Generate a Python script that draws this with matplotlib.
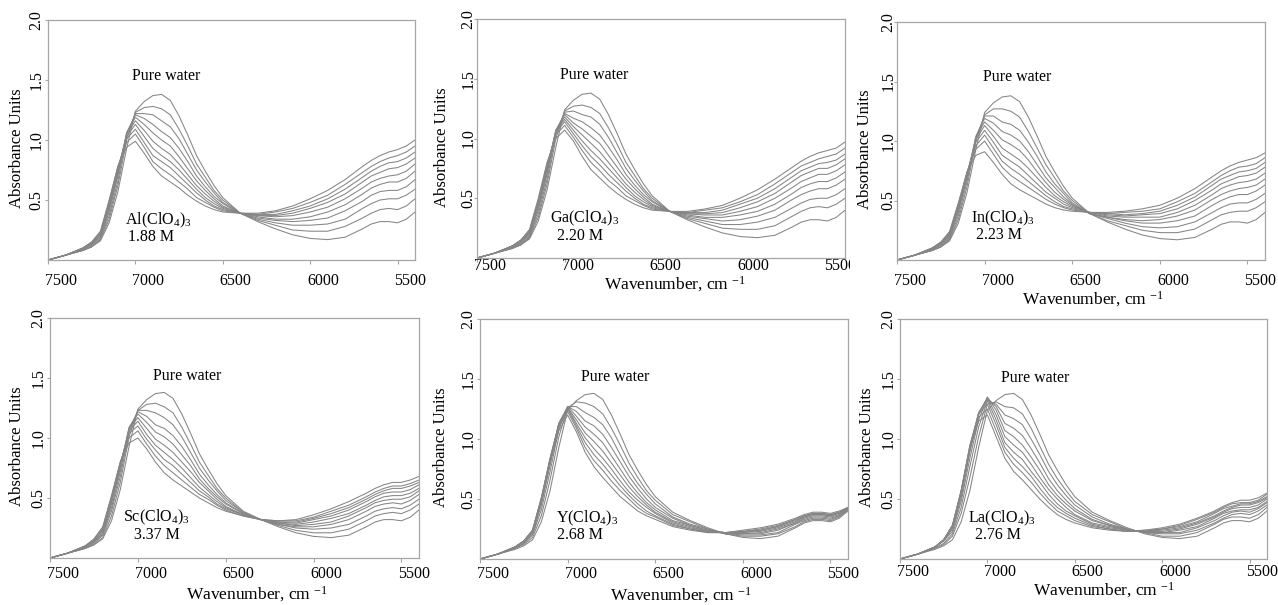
import matplotlib.pyplot as plt
from matplotlib.transforms import ScaledTranslation, Bbox, TransformedBbox

plt.rcParams["font.family"] = ["Liberation Serif", "DejaVu Serif"]
plt.rcParams["mathtext.fontset"] = "custom"
plt.rcParams["mathtext.rm"] = "Liberation Serif"
plt.rcParams["mathtext.it"] = "Liberation Serif:italic"

# NIR absorbance spectra, wavenumber in cm-1
wavenumber = [7500, 7400, 7300, 7250, 7200, 7150, 7100, 7050, 7000, 6950, 6900, 6850, 6800,
              6750, 6700, 6650, 6600, 6550, 6500, 6400, 6300, 6200, 6100, 6000, 5900, 5800,
              5700, 5650, 5600, 5550, 5500, 5450, 5400]

pure_water = [0.00, 0.04, 0.08, 0.11, 0.16, 0.31, 0.57, 0.93, 1.24, 1.32, 1.37, 1.38, 1.33,
              1.20, 1.04, 0.87, 0.74, 0.62, 0.52, 0.39, 0.32, 0.26, 0.21, 0.18, 0.17, 0.19,
              0.26, 0.30, 0.32, 0.32, 0.31, 0.34, 0.40]

# salt solutions, increasing concentration up to the value in the label
al_spectra = [
    [0.00, 0.04, 0.08, 0.11, 0.17, 0.34, 0.62, 1.00, 1.23, 1.27, 1.28, 1.26, 1.21, 1.09, 0.95, 0.80, 0.69, 0.58, 0.50, 0.39, 0.33, 0.29, 0.25, 0.24, 0.24, 0.28, 0.35, 0.39, 0.42, 0.43, 0.42, 0.45, 0.51],
    [0.00, 0.04, 0.08, 0.11, 0.18, 0.37, 0.66, 1.04, 1.22, 1.22, 1.21, 1.16, 1.11, 1.01, 0.88, 0.75, 0.65, 0.56, 0.48, 0.39, 0.34, 0.31, 0.29, 0.29, 0.30, 0.34, 0.43, 0.47, 0.50, 0.51, 0.51, 0.54, 0.59],
    [0.00, 0.04, 0.09, 0.12, 0.19, 0.40, 0.70, 1.06, 1.21, 1.18, 1.13, 1.07, 1.02, 0.93, 0.82, 0.70, 0.61, 0.53, 0.47, 0.39, 0.35, 0.33, 0.32, 0.33, 0.35, 0.41, 0.49, 0.54, 0.57, 0.58, 0.58, 0.61, 0.67],
    [0.00, 0.04, 0.09, 0.13, 0.20, 0.42, 0.72, 1.06, 1.19, 1.13, 1.06, 1.00, 0.95, 0.86, 0.76, 0.66, 0.58, 0.51, 0.45, 0.39, 0.36, 0.34, 0.34, 0.36, 0.40, 0.46, 0.55, 0.60, 0.63, 0.65, 0.65, 0.68, 0.74],
    [0.00, 0.04, 0.09, 0.13, 0.21, 0.44, 0.74, 1.05, 1.16, 1.08, 0.99, 0.93, 0.88, 0.80, 0.71, 0.62, 0.55, 0.49, 0.44, 0.39, 0.37, 0.36, 0.37, 0.40, 0.44, 0.51, 0.60, 0.65, 0.68, 0.70, 0.71, 0.74, 0.80],
    [0.00, 0.04, 0.10, 0.14, 0.22, 0.46, 0.76, 1.03, 1.13, 1.03, 0.93, 0.87, 0.82, 0.75, 0.67, 0.59, 0.52, 0.47, 0.43, 0.39, 0.37, 0.37, 0.39, 0.43, 0.48, 0.55, 0.65, 0.70, 0.73, 0.76, 0.77, 0.80, 0.85],
    [0.00, 0.04, 0.10, 0.14, 0.22, 0.47, 0.77, 1.01, 1.09, 0.98, 0.87, 0.82, 0.77, 0.70, 0.63, 0.56, 0.50, 0.45, 0.42, 0.39, 0.38, 0.38, 0.41, 0.45, 0.51, 0.59, 0.69, 0.74, 0.78, 0.81, 0.82, 0.85, 0.90],
    [0.00, 0.04, 0.10, 0.15, 0.23, 0.49, 0.78, 0.98, 1.05, 0.94, 0.82, 0.76, 0.71, 0.65, 0.59, 0.52, 0.48, 0.44, 0.41, 0.39, 0.38, 0.40, 0.43, 0.48, 0.54, 0.63, 0.73, 0.78, 0.82, 0.85, 0.87, 0.90, 0.95],
    [0.00, 0.04, 0.10, 0.15, 0.24, 0.50, 0.78, 0.94, 0.99, 0.89, 0.78, 0.70, 0.65, 0.60, 0.54, 0.49, 0.45, 0.42, 0.40, 0.39, 0.39, 0.41, 0.45, 0.51, 0.58, 0.67, 0.78, 0.83, 0.87, 0.90, 0.92, 0.95, 1.00],
]

ga_spectra = [
    [0.00, 0.04, 0.08, 0.11, 0.17, 0.34, 0.62, 1.00, 1.23, 1.27, 1.28, 1.26, 1.21, 1.09, 0.95, 0.80, 0.69, 0.58, 0.50, 0.39, 0.33, 0.29, 0.25, 0.24, 0.24, 0.27, 0.35, 0.39, 0.42, 0.43, 0.42, 0.45, 0.50],
    [0.00, 0.04, 0.08, 0.11, 0.18, 0.37, 0.66, 1.04, 1.22, 1.23, 1.20, 1.18, 1.12, 1.01, 0.88, 0.75, 0.65, 0.56, 0.48, 0.39, 0.34, 0.31, 0.28, 0.28, 0.30, 0.34, 0.42, 0.46, 0.49, 0.50, 0.50, 0.53, 0.58],
    [0.00, 0.04, 0.09, 0.12, 0.19, 0.40, 0.70, 1.06, 1.21, 1.17, 1.14, 1.09, 1.03, 0.93, 0.82, 0.70, 0.61, 0.53, 0.47, 0.39, 0.35, 0.33, 0.31, 0.32, 0.35, 0.40, 0.49, 0.53, 0.56, 0.58, 0.58, 0.61, 0.66],
    [0.00, 0.04, 0.09, 0.13, 0.20, 0.42, 0.72, 1.07, 1.20, 1.13, 1.08, 1.02, 0.96, 0.86, 0.76, 0.66, 0.58, 0.51, 0.45, 0.39, 0.36, 0.34, 0.34, 0.36, 0.39, 0.45, 0.54, 0.59, 0.62, 0.64, 0.64, 0.67, 0.72],
    [0.00, 0.04, 0.09, 0.13, 0.21, 0.44, 0.74, 1.07, 1.18, 1.10, 1.03, 0.96, 0.89, 0.80, 0.71, 0.62, 0.55, 0.49, 0.44, 0.39, 0.37, 0.36, 0.36, 0.39, 0.43, 0.50, 0.59, 0.64, 0.67, 0.70, 0.70, 0.73, 0.78],
    [0.00, 0.04, 0.10, 0.14, 0.22, 0.46, 0.76, 1.06, 1.16, 1.07, 0.98, 0.90, 0.83, 0.75, 0.67, 0.59, 0.52, 0.47, 0.43, 0.39, 0.37, 0.37, 0.38, 0.42, 0.47, 0.54, 0.64, 0.69, 0.72, 0.75, 0.75, 0.78, 0.83],
    [0.00, 0.04, 0.10, 0.14, 0.22, 0.47, 0.77, 1.05, 1.14, 1.04, 0.94, 0.85, 0.78, 0.70, 0.63, 0.56, 0.50, 0.45, 0.42, 0.39, 0.38, 0.38, 0.40, 0.45, 0.50, 0.58, 0.68, 0.73, 0.76, 0.79, 0.80, 0.82, 0.87],
    [0.00, 0.04, 0.10, 0.15, 0.23, 0.49, 0.79, 1.03, 1.11, 1.01, 0.90, 0.80, 0.73, 0.65, 0.59, 0.52, 0.48, 0.44, 0.41, 0.39, 0.38, 0.40, 0.42, 0.47, 0.53, 0.62, 0.72, 0.77, 0.80, 0.83, 0.85, 0.87, 0.92],
    [0.00, 0.04, 0.10, 0.15, 0.24, 0.50, 0.80, 1.00, 1.07, 0.98, 0.85, 0.74, 0.67, 0.60, 0.54, 0.49, 0.45, 0.42, 0.40, 0.39, 0.39, 0.41, 0.44, 0.50, 0.57, 0.66, 0.76, 0.81, 0.85, 0.88, 0.90, 0.92, 0.97],
]

in_spectra = [
    [0.00, 0.04, 0.08, 0.11, 0.17, 0.34, 0.62, 1.00, 1.22, 1.27, 1.27, 1.25, 1.20, 1.08, 0.94, 0.80, 0.69, 0.58, 0.50, 0.39, 0.33, 0.29, 0.25, 0.23, 0.23, 0.26, 0.34, 0.38, 0.40, 0.41, 0.41, 0.44, 0.49],
    [0.00, 0.04, 0.08, 0.11, 0.18, 0.37, 0.66, 1.03, 1.21, 1.21, 1.16, 1.14, 1.09, 0.99, 0.87, 0.74, 0.64, 0.56, 0.48, 0.39, 0.35, 0.31, 0.28, 0.27, 0.28, 0.32, 0.40, 0.44, 0.47, 0.48, 0.48, 0.51, 0.56],
    [0.00, 0.04, 0.09, 0.12, 0.19, 0.40, 0.69, 1.04, 1.19, 1.15, 1.08, 1.05, 1.00, 0.91, 0.80, 0.69, 0.61, 0.53, 0.47, 0.39, 0.36, 0.33, 0.31, 0.31, 0.33, 0.37, 0.46, 0.50, 0.53, 0.55, 0.55, 0.58, 0.63],
    [0.00, 0.04, 0.09, 0.13, 0.20, 0.42, 0.71, 1.03, 1.16, 1.09, 1.01, 0.97, 0.92, 0.84, 0.74, 0.65, 0.57, 0.51, 0.46, 0.39, 0.36, 0.34, 0.33, 0.34, 0.37, 0.42, 0.51, 0.55, 0.58, 0.60, 0.61, 0.63, 0.68],
    [0.00, 0.04, 0.09, 0.13, 0.21, 0.43, 0.72, 1.01, 1.13, 1.04, 0.94, 0.89, 0.84, 0.77, 0.69, 0.61, 0.54, 0.49, 0.45, 0.40, 0.37, 0.36, 0.36, 0.36, 0.40, 0.46, 0.55, 0.60, 0.63, 0.65, 0.66, 0.68, 0.73],
    [0.00, 0.04, 0.10, 0.14, 0.22, 0.45, 0.73, 0.99, 1.09, 0.99, 0.88, 0.83, 0.78, 0.71, 0.64, 0.57, 0.52, 0.47, 0.44, 0.40, 0.38, 0.37, 0.38, 0.39, 0.43, 0.50, 0.59, 0.64, 0.67, 0.70, 0.71, 0.73, 0.78],
    [0.00, 0.04, 0.10, 0.14, 0.22, 0.46, 0.74, 0.96, 1.05, 0.94, 0.83, 0.77, 0.72, 0.66, 0.60, 0.54, 0.49, 0.45, 0.43, 0.40, 0.39, 0.38, 0.39, 0.41, 0.46, 0.53, 0.63, 0.68, 0.71, 0.74, 0.75, 0.77, 0.82],
    [0.00, 0.04, 0.10, 0.15, 0.23, 0.47, 0.74, 0.93, 1.00, 0.89, 0.78, 0.71, 0.66, 0.61, 0.56, 0.51, 0.47, 0.44, 0.42, 0.40, 0.39, 0.40, 0.41, 0.43, 0.49, 0.56, 0.66, 0.71, 0.75, 0.78, 0.79, 0.81, 0.86],
    [0.00, 0.04, 0.10, 0.15, 0.24, 0.48, 0.74, 0.88, 0.91, 0.82, 0.72, 0.64, 0.59, 0.55, 0.51, 0.47, 0.44, 0.42, 0.41, 0.40, 0.40, 0.41, 0.43, 0.46, 0.52, 0.60, 0.70, 0.75, 0.79, 0.82, 0.84, 0.86, 0.90],
]

sc_spectra = [
    [0.00, 0.04, 0.08, 0.11, 0.17, 0.35, 0.63, 1.01, 1.23, 1.28, 1.29, 1.26, 1.21, 1.09, 0.95, 0.80, 0.69, 0.58, 0.50, 0.38, 0.32, 0.27, 0.23, 0.21, 0.21, 0.24, 0.31, 0.35, 0.37, 0.38, 0.37, 0.40, 0.45],
    [0.00, 0.04, 0.08, 0.12, 0.19, 0.39, 0.68, 1.05, 1.23, 1.23, 1.21, 1.17, 1.11, 1.01, 0.88, 0.75, 0.65, 0.56, 0.48, 0.38, 0.32, 0.28, 0.25, 0.24, 0.25, 0.28, 0.35, 0.39, 0.41, 0.42, 0.41, 0.44, 0.49],
    [0.00, 0.04, 0.09, 0.13, 0.20, 0.42, 0.72, 1.08, 1.22, 1.18, 1.11, 1.08, 1.02, 0.93, 0.82, 0.70, 0.61, 0.53, 0.46, 0.37, 0.32, 0.28, 0.26, 0.26, 0.28, 0.32, 0.39, 0.43, 0.45, 0.46, 0.45, 0.48, 0.53],
    [0.00, 0.04, 0.09, 0.13, 0.21, 0.45, 0.75, 1.09, 1.20, 1.13, 1.05, 1.01, 0.95, 0.86, 0.77, 0.66, 0.58, 0.51, 0.45, 0.37, 0.32, 0.29, 0.27, 0.28, 0.30, 0.35, 0.42, 0.46, 0.48, 0.49, 0.49, 0.51, 0.56],
    [0.00, 0.04, 0.09, 0.14, 0.22, 0.47, 0.77, 1.08, 1.17, 1.08, 0.99, 0.94, 0.88, 0.80, 0.72, 0.63, 0.56, 0.49, 0.43, 0.36, 0.32, 0.29, 0.28, 0.30, 0.33, 0.37, 0.44, 0.48, 0.51, 0.52, 0.52, 0.54, 0.58],
    [0.00, 0.04, 0.10, 0.15, 0.23, 0.49, 0.78, 1.06, 1.14, 1.03, 0.94, 0.88, 0.82, 0.75, 0.67, 0.59, 0.53, 0.47, 0.42, 0.36, 0.32, 0.30, 0.29, 0.32, 0.35, 0.40, 0.47, 0.51, 0.54, 0.55, 0.55, 0.57, 0.61],
    [0.00, 0.04, 0.10, 0.15, 0.24, 0.50, 0.79, 1.04, 1.10, 0.99, 0.90, 0.82, 0.77, 0.70, 0.63, 0.56, 0.51, 0.45, 0.41, 0.36, 0.32, 0.30, 0.30, 0.33, 0.37, 0.42, 0.49, 0.53, 0.56, 0.58, 0.58, 0.60, 0.63],
    [0.00, 0.04, 0.10, 0.15, 0.25, 0.51, 0.80, 1.00, 1.06, 0.95, 0.85, 0.77, 0.71, 0.65, 0.59, 0.53, 0.49, 0.44, 0.40, 0.35, 0.32, 0.31, 0.31, 0.34, 0.39, 0.44, 0.51, 0.55, 0.58, 0.60, 0.60, 0.62, 0.65],
    [0.00, 0.04, 0.10, 0.16, 0.26, 0.52, 0.80, 0.96, 1.00, 0.91, 0.80, 0.71, 0.65, 0.60, 0.55, 0.50, 0.46, 0.42, 0.39, 0.35, 0.32, 0.31, 0.32, 0.36, 0.41, 0.47, 0.54, 0.58, 0.61, 0.63, 0.63, 0.65, 0.68],
]

y_spectra = [
    [0.00, 0.04, 0.09, 0.12, 0.18, 0.36, 0.66, 1.02, 1.26, 1.31, 1.30, 1.27, 1.21, 1.09, 0.95, 0.80, 0.68, 0.57, 0.49, 0.37, 0.31, 0.25, 0.21, 0.19, 0.19, 0.21, 0.27, 0.31, 0.33, 0.33, 0.32, 0.35, 0.41],
    [0.00, 0.04, 0.09, 0.13, 0.20, 0.41, 0.73, 1.08, 1.27, 1.27, 1.22, 1.18, 1.12, 1.01, 0.87, 0.74, 0.63, 0.54, 0.46, 0.35, 0.29, 0.25, 0.21, 0.20, 0.20, 0.22, 0.29, 0.32, 0.34, 0.34, 0.33, 0.36, 0.41],
    [0.00, 0.04, 0.09, 0.13, 0.21, 0.45, 0.78, 1.11, 1.27, 1.23, 1.15, 1.11, 1.04, 0.93, 0.81, 0.69, 0.59, 0.50, 0.43, 0.34, 0.28, 0.24, 0.21, 0.21, 0.21, 0.24, 0.30, 0.33, 0.35, 0.35, 0.34, 0.36, 0.41],
    [0.00, 0.04, 0.10, 0.14, 0.22, 0.47, 0.81, 1.13, 1.27, 1.19, 1.10, 1.04, 0.97, 0.86, 0.75, 0.64, 0.55, 0.47, 0.41, 0.32, 0.28, 0.24, 0.22, 0.21, 0.22, 0.25, 0.30, 0.34, 0.36, 0.36, 0.35, 0.37, 0.42],
    [0.00, 0.04, 0.10, 0.15, 0.23, 0.49, 0.83, 1.13, 1.26, 1.16, 1.05, 0.98, 0.90, 0.80, 0.70, 0.60, 0.52, 0.45, 0.39, 0.31, 0.27, 0.23, 0.22, 0.22, 0.23, 0.26, 0.31, 0.35, 0.37, 0.37, 0.36, 0.38, 0.42],
    [0.00, 0.04, 0.10, 0.15, 0.23, 0.50, 0.84, 1.13, 1.26, 1.13, 1.01, 0.92, 0.84, 0.75, 0.65, 0.56, 0.49, 0.43, 0.38, 0.30, 0.26, 0.23, 0.22, 0.22, 0.24, 0.27, 0.32, 0.35, 0.37, 0.37, 0.36, 0.38, 0.42],
    [0.00, 0.04, 0.10, 0.15, 0.24, 0.51, 0.84, 1.12, 1.25, 1.11, 0.97, 0.87, 0.79, 0.70, 0.61, 0.53, 0.46, 0.40, 0.36, 0.29, 0.25, 0.23, 0.22, 0.23, 0.24, 0.27, 0.33, 0.36, 0.38, 0.38, 0.37, 0.39, 0.42],
    [0.00, 0.04, 0.10, 0.15, 0.24, 0.51, 0.83, 1.10, 1.23, 1.09, 0.93, 0.82, 0.74, 0.65, 0.57, 0.50, 0.43, 0.38, 0.35, 0.28, 0.25, 0.22, 0.22, 0.23, 0.25, 0.28, 0.33, 0.36, 0.38, 0.38, 0.37, 0.39, 0.43],
    [0.00, 0.04, 0.10, 0.15, 0.24, 0.50, 0.81, 1.07, 1.20, 1.06, 0.89, 0.77, 0.68, 0.60, 0.52, 0.46, 0.40, 0.36, 0.33, 0.27, 0.24, 0.22, 0.22, 0.24, 0.26, 0.29, 0.34, 0.37, 0.39, 0.39, 0.38, 0.40, 0.43],
]

la_spectra = [
    [0.00, 0.04, 0.09, 0.12, 0.19, 0.38, 0.68, 1.02, 1.29, 1.31, 1.27, 1.26, 1.21, 1.09, 0.94, 0.79, 0.67, 0.57, 0.48, 0.37, 0.31, 0.25, 0.22, 0.19, 0.19, 0.22, 0.29, 0.33, 0.35, 0.35, 0.34, 0.37, 0.43],
    [0.00, 0.04, 0.09, 0.13, 0.21, 0.43, 0.77, 1.10, 1.32, 1.29, 1.20, 1.17, 1.12, 1.00, 0.87, 0.73, 0.62, 0.53, 0.45, 0.35, 0.29, 0.25, 0.22, 0.21, 0.21, 0.24, 0.30, 0.34, 0.37, 0.38, 0.37, 0.40, 0.45],
    [0.00, 0.04, 0.10, 0.15, 0.23, 0.48, 0.84, 1.16, 1.34, 1.27, 1.13, 1.09, 1.03, 0.92, 0.80, 0.67, 0.57, 0.49, 0.42, 0.33, 0.28, 0.25, 0.22, 0.22, 0.22, 0.26, 0.32, 0.36, 0.39, 0.40, 0.39, 0.42, 0.47],
    [0.00, 0.04, 0.10, 0.15, 0.25, 0.51, 0.89, 1.20, 1.35, 1.24, 1.07, 1.02, 0.95, 0.85, 0.74, 0.62, 0.53, 0.46, 0.40, 0.32, 0.28, 0.24, 0.23, 0.22, 0.24, 0.27, 0.34, 0.38, 0.40, 0.41, 0.41, 0.43, 0.48],
    [0.00, 0.04, 0.10, 0.16, 0.26, 0.54, 0.92, 1.22, 1.34, 1.20, 1.02, 0.95, 0.89, 0.79, 0.68, 0.58, 0.50, 0.43, 0.37, 0.30, 0.27, 0.24, 0.23, 0.23, 0.25, 0.29, 0.35, 0.39, 0.42, 0.43, 0.43, 0.45, 0.50],
    [0.00, 0.04, 0.10, 0.16, 0.27, 0.56, 0.94, 1.22, 1.32, 1.16, 0.97, 0.89, 0.83, 0.73, 0.64, 0.54, 0.46, 0.40, 0.36, 0.29, 0.26, 0.24, 0.23, 0.24, 0.26, 0.30, 0.36, 0.40, 0.43, 0.45, 0.45, 0.47, 0.51],
    [0.00, 0.04, 0.10, 0.16, 0.28, 0.57, 0.95, 1.21, 1.29, 1.12, 0.93, 0.84, 0.77, 0.69, 0.59, 0.50, 0.43, 0.38, 0.34, 0.28, 0.25, 0.23, 0.23, 0.25, 0.27, 0.31, 0.38, 0.42, 0.44, 0.46, 0.46, 0.48, 0.52],
    [0.00, 0.04, 0.10, 0.16, 0.28, 0.57, 0.94, 1.18, 1.25, 1.07, 0.89, 0.79, 0.72, 0.64, 0.55, 0.47, 0.40, 0.36, 0.32, 0.27, 0.25, 0.23, 0.24, 0.25, 0.28, 0.33, 0.39, 0.43, 0.46, 0.47, 0.47, 0.49, 0.54],
    [0.00, 0.04, 0.10, 0.16, 0.28, 0.57, 0.92, 1.15, 1.20, 1.02, 0.84, 0.73, 0.66, 0.58, 0.50, 0.43, 0.37, 0.33, 0.30, 0.26, 0.24, 0.23, 0.24, 0.26, 0.29, 0.34, 0.40, 0.44, 0.47, 0.49, 0.49, 0.51, 0.55],
]

salts = ["Al", "Ga", "In", "Sc", "Y", "La"]
molarity = ["1.88 M", "2.20 M", "2.23 M", "3.37 M", "2.68 M", "2.76 M"]
spectra = [al_spectra, ga_spectra, in_spectra, sc_spectra, y_spectra, la_spectra]

x_ticks = [7500, 7000, 6500, 6000, 5500]
y_ticks = [0.5, 1.0, 1.5, 2.0]

# layout, in pixels of the 1278x605 canvas
W, H = 1278, 605
boxes = [(48, 20, 415, 260), (477, 19, 845, 258), (897, 22, 1265, 260),
         (50, 318, 419, 558), (480, 319, 848, 559), (900, 319, 1267, 559)]
xtick_pad = [6.1, -2.8, 6.4, 2.9, 2.2, 0.8]
xlabel_pos = [None, (0.538, -0.068), (0.533, -0.125), (0.561, -0.108), (0.546, -0.112), (0.556, -0.091)]
ylabel_off = [31, 35, 32, 33, 39, 33]
ytick_off = [10.5, 8, 8, 11, 11, 11]
water_xy = [(6826, 1.53), (6831, 1.53), (6814, 1.54), (6720, 1.52), (6729, 1.52), (6728, 1.51)]
salt_xy = [(6871, 0.33), (6883, 0.33), (6894, 0.35), (6897, 0.34), (6889, 0.34), (6917, 0.34)]
conc_xy = [(6911, 0.19), (6911, 0.18), (6920, 0.21), (6890, 0.19), (6929, 0.20), (6937, 0.20)]

line_color = "#858585"
frame_color = "#a6a6a6"

fig = plt.figure(figsize=(W / 100, H / 100), dpi=100)

for i, (l, t, r, b) in enumerate(boxes):
    ax = fig.add_axes([l / W, 1 - b / H, (r - l) / W, (b - t) / H])
    ax.plot(wavenumber, pure_water, color=line_color, lw=0.75)
    for row in spectra[i]:
        ax.plot(wavenumber, row, color=line_color, lw=0.75)

    ax.set_xlim(7500, 5400)
    ax.set_ylim(0, 2.0)
    ax.set_xticks(x_ticks)
    ax.set_xticklabels([str(v) for v in x_ticks])
    ax.set_yticks(y_ticks)
    ax.set_yticklabels([f"{v:.1f}" for v in y_ticks])
    for sp in ax.spines.values():
        sp.set_color(frame_color)
        sp.set_linewidth(0.9)
    ax.tick_params(axis="x", length=3, width=0.8, color=frame_color, labelsize=11.5,
                   pad=xtick_pad[i])
    ax.tick_params(axis="y", length=2, width=0.8, color=frame_color, labelsize=11.5,
                   pad=(ytick_off[i] - 2) * 0.72)

    # x tick labels sit a little right of their ticks
    shift = ScaledTranslation(13 / 100, 0, fig.dpi_scale_trans)
    for lbl in ax.get_xticklabels():
        lbl.set_transform(lbl.get_transform() + shift)
    for lbl in ax.get_yticklabels():
        lbl.set_rotation(90)
        lbl.set_ha("center")
        lbl.set_va("center")

    ax.set_ylabel("Absorbance Units", fontsize=12)
    ax.yaxis.label.set_va("center")
    ax.yaxis.set_label_coords(-ylabel_off[i] / (r - l), 0.465)
    if xlabel_pos[i] is not None:
        ax.set_xlabel("Wavenumber, cm $^{-1}$", fontsize=12.5)
        ax.xaxis.set_label_coords(*xlabel_pos[i])

    ax.text(*water_xy[i], "Pure water", fontsize=11.5, ha="center", va="center")
    ax.text(*salt_xy[i], f"{salts[i]}(ClO$_{{4}}$)$_{{3}}$", fontsize=11.5,
            ha="center", va="center")
    ax.text(*conc_xy[i], molarity[i], fontsize=11.5, ha="center", va="center")

    # the middle top panel's last tick label is cut by its neighbour
    if i == 1:
        clip = TransformedBbox(Bbox([[0, 0], [850 / W, 1]]), fig.transFigure)
        lbl = ax.get_xticklabels()[-1]
        lbl.set_clip_box(clip)
        lbl.set_clip_on(True)

fig.savefig("out.png", dpi=100, facecolor="white")
